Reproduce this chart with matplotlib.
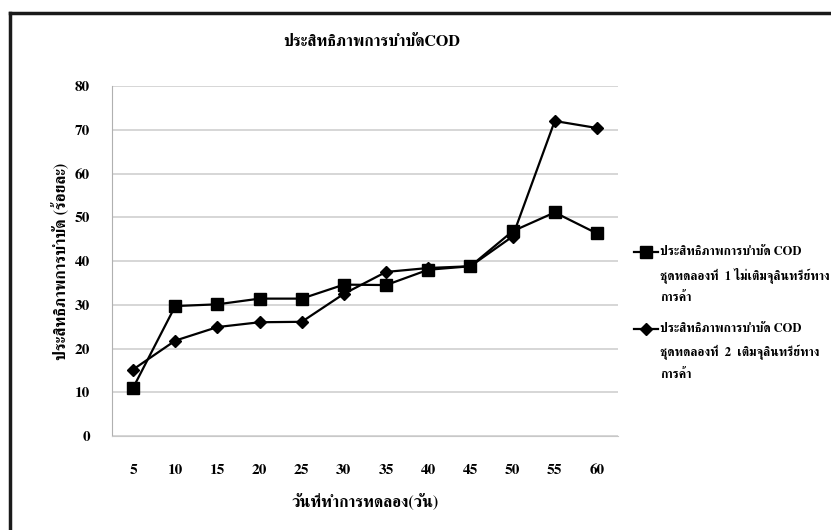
import matplotlib
matplotlib.use("Agg")
import matplotlib.pyplot as plt
from matplotlib import font_manager
from matplotlib.lines import Line2D

# days of the experiment and COD removal (%) for the two test sets
days = [5, 10, 15, 20, 25, 30, 35, 40, 45, 50, 55, 60]
set1_removal = [11.0, 29.7, 30.1, 31.4, 31.4, 34.6, 34.5, 38.0, 38.8, 46.8, 51.1, 46.3]
set2_removal = [15.2, 21.8, 24.9, 26.0, 26.1, 32.5, 37.5, 38.4, 38.8, 45.6, 72.0, 70.4]
y_ticks = [0, 10, 20, 30, 40, 50, 60, 70, 80]

title = "ประสิทธิภาพการบำบัดCOD"
x_label = "วันที่ทำการทดลอง(วัน)"
y_label = "ประสิทธิภาพการบำบัด (ร้อยละ)"
legend_labels = [
    ["ประสิทธิภาพการบำบัด COD", "ชุดทดลองที่  1 ไม่เติมจุลินทรีย์ทาง", "การค้า"],
    ["ประสิทธิภาพการบำบัด COD", "ชุดทดลองที่  2  เติมจุลินทรีย์ทาง", "การค้า"],
]

# FreeSerif carries Thai glyphs with proper mark placement
for path in font_manager.findSystemFonts():
    if "FreeSerif" in path:
        font_manager.fontManager.addfont(path)

plt.rcParams["font.family"] = ["FreeSerif", "DejaVu Sans"]
plt.rcParams["font.weight"] = "bold"
plt.rcParams["axes.labelweight"] = "bold"

W, H = 831, 530
fig = plt.figure(figsize=(W / 100, H / 100), dpi=100)
ax = fig.add_axes([112 / W, 94 / H, 506 / W, 350 / H])

x = list(range(len(days)))
ax.plot(x, set1_removal, color="black", lw=1.6, marker="s", ms=8)
ax.plot(x, set2_removal, color="black", lw=1.6, marker="D", ms=6)

ax.set_xlim(-0.5, len(days) - 0.5)
ax.set_ylim(0, 80)
ax.set_yticks(y_ticks)
ax.set_xticks(x)
ax.set_xticklabels([str(d) for d in days])
ax.tick_params(length=0, labelsize=11)
ax.tick_params(axis="x", pad=20)
ax.tick_params(axis="y", pad=16)
ax.grid(axis="y", color="#d0d0d0", lw=1.2)
ax.set_axisbelow(True)
for side in ["top", "right"]:
    ax.spines[side].set_visible(False)
ax.spines["left"].set_color("#b0b0b0")
ax.spines["bottom"].set_color("#c8c8c8")

ax.set_xlabel(x_label, fontsize=11.5, labelpad=12)
ax.set_ylabel(y_label, fontsize=11.5, labelpad=4)
fig.text(372 / W, 1 - 42 / H, title, fontsize=11.5, ha="center", va="center")

# legend entries: sample line with marker, then a three-line label
markers = [("s", 8), ("D", 6)]
entry_tops = [252, 329]
line_step = 23
for (mk, ms), top, lines in zip(markers, entry_tops, legend_labels):
    yf = 1 - top / H
    fig.add_artist(Line2D([634 / W, 646 / W, 658 / W], [yf, yf, yf], color="black",
                          lw=1.6, marker=mk, ms=ms, markevery=[1],
                          transform=fig.transFigure))
    for i, line in enumerate(lines):
        fig.text(660 / W, 1 - (top + i * line_step) / H, line, fontsize=9,
                 ha="left", va="center")

# frame lines along the left and top edges
fig.add_artist(Line2D([9.5 / W, 9.5 / W], [0, 1 - 13 / H], color="#1a1a1a", lw=2.5,
                      transform=fig.transFigure))
fig.add_artist(Line2D([9.5 / W, 1.0], [1 - 13 / H, 1 - 13 / H], color="#1a1a1a", lw=2.5,
                      transform=fig.transFigure))

fig.savefig("out.png", dpi=100)
